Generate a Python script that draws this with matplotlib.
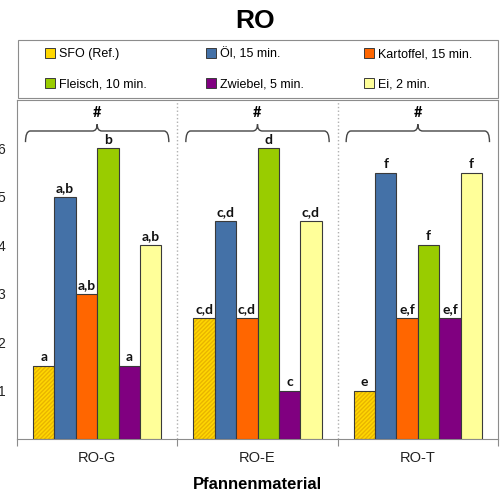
import matplotlib
matplotlib.use("Agg")
import matplotlib.pyplot as plt
from matplotlib.patches import Rectangle, PathPatch
from matplotlib.path import Path
import numpy as np

plt.rcParams['font.family'] = ['Liberation Sans', 'DejaVu Sans']

# data
groups = ['RO-G', 'RO-E', 'RO-T']
series = ['SFO (Ref.)', 'Öl, 15 min.', 'Kartoffel, 15 min.',
          'Fleisch, 10 min.', 'Zwiebel, 5 min.', 'Ei, 2 min.']
values = [
    [1.5, 2.5, 1.0],   # SFO
    [5.0, 4.5, 5.5],   # Öl
    [3.0, 2.5, 2.5],   # Kartoffel
    [6.0, 6.0, 4.0],   # Fleisch
    [1.5, 1.0, 2.5],   # Zwiebel
    [4.0, 4.5, 5.5],   # Ei
]
letters = [
    ['a', 'c,d', 'e'],
    ['a,b', 'c,d', 'f'],
    ['a,b', 'c,d', 'e,f'],
    ['b', 'd', 'f'],
    ['a', 'c', 'e,f'],
    ['a,b', 'c,d', 'f'],
]
group_marks = ['#', '#', '#']

colors = ['#FFD700', '#4471A7', '#FF6600', '#99CC00', '#800080', '#FFFF99']
edge = '#3a3a3a'
grey = '#8c8c8c'

fig = plt.figure(figsize=(5.03, 4.91), dpi=100)
ax = fig.add_axes([17/503, 1-439/491, 481/503, 339/491])

x = np.arange(len(groups)) + 0.5
w = 0.8 / len(series)
for i, (vals, col) in enumerate(zip(values, colors)):
    pos = x + (i - 2.5) * w
    if i == 0:
        # hatched reference bars
        ax.bar(pos, vals, w, color=col, edgecolor='#E8B400', linewidth=0,
               hatch='////////', zorder=2)
        ax.bar(pos, vals, w, fill=False, edgecolor=edge, linewidth=0.8, zorder=3)
    else:
        ax.bar(pos, vals, w, color=col, edgecolor=edge, linewidth=0.8, zorder=3)
    for p, v, t in zip(pos, vals, letters[i]):
        ax.text(p, v + 0.06, t, ha='center', va='bottom', fontsize=10,
                fontweight='bold', family='Lato', color='#111111')

# braces over each group
yb, yh, yt = 6.13, 6.36, 6.5
for c, mark in zip(x, group_marks):
    x0, x1, r = c - 0.447, c + 0.447, 0.03
    verts = [(x0, yb), (x0, yh), (x0 + r, yh), (c - r, yh), (c, yh), (c, yt),
             (c, yh), (c + r, yh), (x1 - r, yh), (x1, yh), (x1, yb)]
    codes = [Path.MOVETO, Path.CURVE3, Path.CURVE3, Path.LINETO,
             Path.CURVE3, Path.CURVE3, Path.CURVE3, Path.CURVE3,
             Path.LINETO, Path.CURVE3, Path.CURVE3]
    ax.add_patch(PathPatch(Path(verts, codes), fill=False, edgecolor='#444444',
                           linewidth=1.0, zorder=4))
    ax.text(c, 6.58, mark, ha='center', va='bottom', fontsize=10.5,
            fontweight='bold', family='Lato')

# group separators
for sx in [1, 2]:
    ax.axvline(sx, color='#b0b0b0', linestyle=':', linewidth=1.0, zorder=1)

ax.set_xlim(0, 3)
ax.set_ylim(0, 7)
ax.set_yticks([1, 2, 3, 4, 5, 6])
ax.tick_params(axis='y', length=0, pad=8.5, labelsize=10, labelcolor='#222222')
ax.set_xticks([0, 1, 2, 3])
ax.set_xticklabels([])
ax.tick_params(axis='x', which='major', length=5, color=grey, width=0.8)
ax.set_xticks(x, minor=True)
ax.set_xticklabels(groups, minor=True)
ax.tick_params(axis='x', which='minor', length=0, pad=8.5, labelsize=10.5,
               labelcolor='#222222')
for s in ax.spines.values():
    s.set_color(grey)
    s.set_linewidth(0.8)
ax.set_xlabel('Pfannenmaterial', fontsize=12, fontweight='bold', labelpad=9)

fig.text(255/503, 1-21/491, 'RO', ha='center', va='center', fontsize=19,
         fontweight='bold')

# legend box
fig.patches.append(Rectangle((18/503, 1-98/491), 480/503, 58/491,
                             transform=fig.transFigure, fill=False,
                             edgecolor=grey, linewidth=0.8))
handles = [Rectangle((0, 0), 1, 1, facecolor=c, edgecolor=edge, linewidth=0.7)
           for c in colors]
order = [0, 3, 1, 4, 2, 5]
fig.legend([handles[k] for k in order], [series[k] for k in order],
           ncol=3, mode='expand', frameon=False, fontsize=9,
           bbox_to_anchor=(40/503, 1-98/491, 437/503, 58/491), loc='center',
           handlelength=0.8, handleheight=0.8, handletextpad=0.3,
           labelspacing=1.45, borderaxespad=0)

fig.savefig('out.png', dpi=100)
